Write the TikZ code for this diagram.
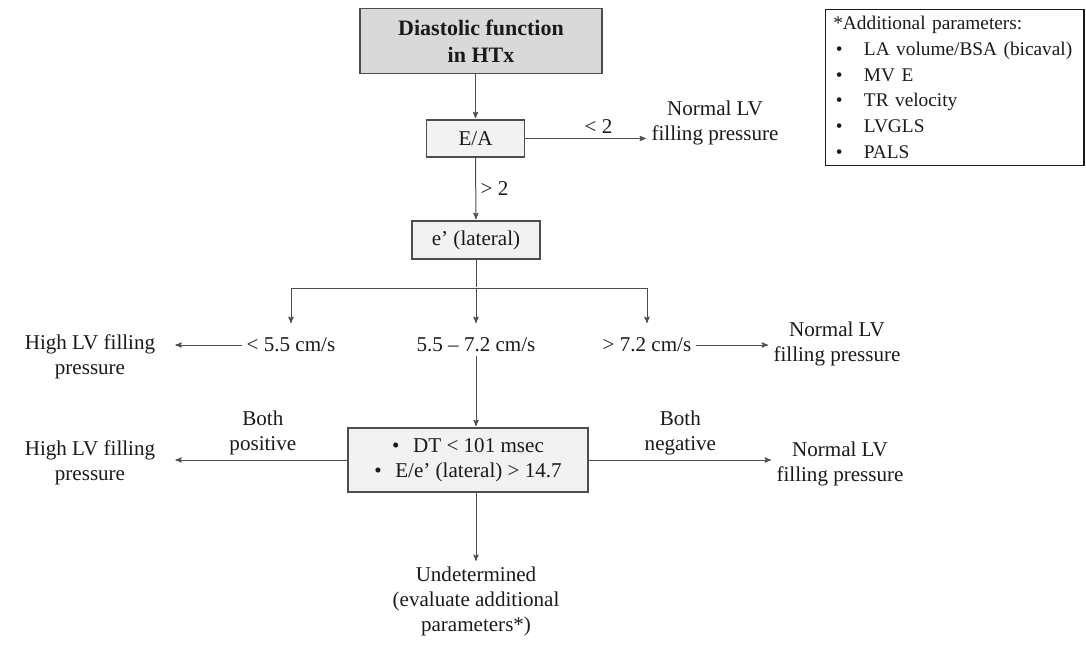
\documentclass[tikz,border=0pt]{standalone}
\usepackage{fontspec}
\setmainfont{Liberation Serif}
\usepackage{tikz}
\usetikzlibrary{
        arrows,
        positioning
    }
\definecolor{inkgray}{HTML}{1A1A1A}
\definecolor{linegray}{HTML}{4D4D4D}
\definecolor{headfill}{HTML}{D9D9D9}
\definecolor{boxfill}{HTML}{F2F2F2}
\newcommand{\pitem}[1]{\\\hspace*{2pt}\makebox[21pt][l]{\textbullet}#1}
\tikzset{>=stealth',shorten >=1pt,auto}
\tikzset{
    stepbox/.style={draw=linegray, fill=boxfill, line width=0.8pt, align=center, inner sep=3pt},
    headbox/.style={stepbox, fill=headfill, font=\bfseries\fontsize{16.5}{20}\selectfont},
    outcome/.style={align=center, inner sep=3pt},
    flow/.style={->, draw=linegray, line width=0.75pt}
}

\begin{document}
\begin{tikzpicture}[x=0.75pt, y=-0.75pt, font=\fontsize{15.8}{18.75}\selectfont, text=inkgray]
                \useasboundingbox (0,0) rectangle (1086,644);
                % decision boxes
                \node[headbox, minimum width=181.5pt, minimum height=48.75pt] (head) at (481,41) {Diastolic function\\in HTx};
                \node[stepbox, minimum width=74pt, minimum height=27.75pt] (ea) at (475.5,138.5) {E/A};
                \node[stepbox, minimum width=96pt, minimum height=28.5pt] (elat) at (476,240) {e’ (lateral)};
                \node[stepbox, minimum width=180pt, minimum height=48pt] (dt) at (468,460) {
                        \textbullet\hspace{0.65em}DT < 101 msec\\
                        \textbullet\hspace{0.65em}E/e’ (lateral) > 14.7
                        };
                % outcomes
                \node[outcome] (norm1) at (715,123) {Normal LV\\filling pressure};
                \node[outcome] (lo)    at (291,345) {< 5.5 cm/s};
                \node[outcome] (mid)   at (476,345) {5.5 – 7.2 cm/s};
                \node[outcome] (hi)    at (647,345) {> 7.2 cm/s};
                \node[outcome] (high1) at (90,357) {High LV filling\\pressure};
                \node[outcome] (norm2) at (837,343.5) {Normal LV\\filling pressure};
                \node[outcome] (high2) at (90,463) {High LV filling\\pressure};
                \node[outcome] (norm3) at (840,463.5) {Normal LV\\filling pressure};
                \node[outcome] (undet) at (476,601) {Undetermined\\(evaluate additional\\parameters*)};
                % additional parameters
                \node[draw=inkgray, line width=0.8pt, align=left, anchor=north east, inner xsep=6pt, inner ysep=5pt,
                      text width=182pt, font=\fontsize{14.5}{19.3}\selectfont] (params) at (1084.5,9) {
                        *Additional parameters:
                        \pitem{LA volume/BSA (bicaval)}
                        \pitem{MV E}
                        \pitem{TR velocity}
                        \pitem{LVGLS}
                        \pitem{PALS}
                        };
                % connectors
                \coordinate (split) at (476,288);
                \draw[flow] (head.south -| ea) -- (ea);
                \draw[flow] (ea) -- (ea -| norm1.west) node[pos=0.6, above] {< 2};
                \draw[flow] (ea) -- (elat) node[midway, right] {> 2};
                \draw[linegray, line width=0.75pt] (elat) -- (split);
                \draw[flow, shorten >=8pt] (split) -| (lo);
                \draw[flow, shorten >=8pt] (split) -- (mid);
                \draw[flow, shorten >=8pt] (split) -| (hi);
                \draw[flow, shorten >=12pt] (lo) -- (lo -| high1.east);
                \draw[flow] (hi) -- (hi -| norm2.west);
                \draw[flow] (mid) -- (mid |- dt.north);
                \draw[flow, shorten >=12pt] (dt) -- (dt -| high2.east) node[pos=0.45, above, align=center] {Both\\positive};
                \draw[flow] (dt) -- (dt -| norm3.west) node[midway, above, align=center] {Both\\negative};
                \draw[flow] (dt.south -| mid) -- (undet);
\end{tikzpicture}
\end{document}
